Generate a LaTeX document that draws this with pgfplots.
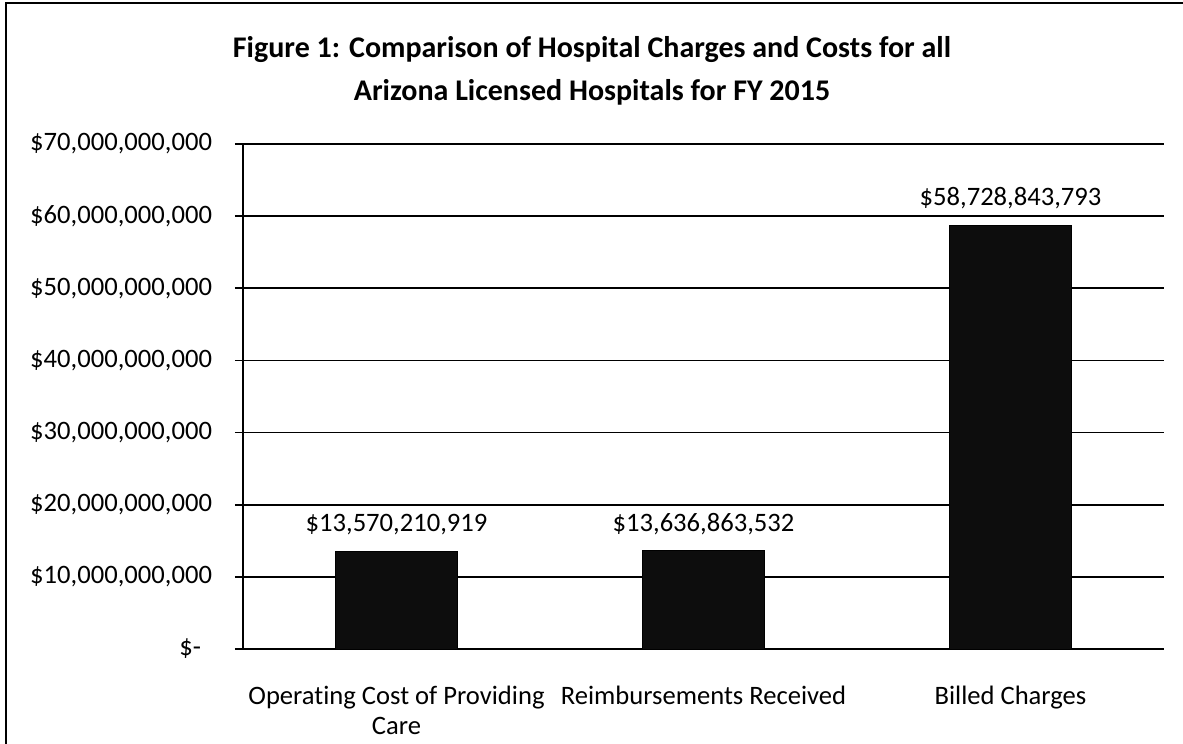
\documentclass[border=0pt]{standalone}
\usepackage{fontspec}
\setmainfont{Carlito}[Ligatures=NoCommon]
\usepackage{pgfplots}
\pgfplotsset{compat=1.18}
\begin{document}
\begin{tikzpicture}[x=1pt,y=1pt]
\useasboundingbox (0,0) rectangle (591.5,372);
\draw[line width=1.2pt] (3,-10) -- (3,370.5) -- (600,370.5);
\node[font=\bfseries\fontsize{15}{21.5}\selectfont, align=center] at (296,336.5) {Figure 1: Comparison of Hospital Charges and Costs for all\\Arizona Licensed Hospitals for FY 2015};
\begin{axis}[
  at={(121.5pt,47.5pt)}, anchor=south west,
  scale only axis, width=460.5pt, height=252.5pt,
  xmin=-0.5, xmax=2.5, ymin=0, ymax=70e9,
  ytick={0,10e9,20e9,30e9,40e9,50e9,60e9,70e9},
  yticklabels={{\$-\rule{5.5pt}{0pt}},{\$10,000,000,000},{\$20,000,000,000},{\$30,000,000,000},{\$40,000,000,000},{\$50,000,000,000},{\$60,000,000,000},{\$70,000,000,000}},
  scaled y ticks=false,
  xtick={0,1,2},
  xticklabels={{Operating Cost of Providing\\Care}, {Reimbursements Received}, {Billed Charges}},
  major x tick style={draw=none},
  extra x ticks={-0.5,0.5,1.5,2.5},
  extra x tick labels={},
  extra x tick style={tick style={black, line width=0.8pt}, major tick length=4pt, tick align=outside, grid=none},
  ymajorgrids, grid style={black, line width=0.8pt},
  tick align=outside, major tick length=4pt,
  y tick style={black, line width=0.8pt},
  axis x line*=bottom, axis y line*=left,
  x axis line style={-, line width=0.8pt}, y axis line style={-, line width=0.8pt},
  tick label style={font=\fontsize{13.3}{15}\selectfont},
  xticklabel style={align=center, yshift=-11pt},
  yticklabel style={xshift=-8pt},
  clip=false,
]
\addplot[ybar, bar width=61pt, fill=black!95, draw=black, line width=0.5pt,
  nodes near coords, point meta=explicit symbolic,
  every node near coord/.style={font=\fontsize{13.3}{15}\selectfont, anchor=center, yshift=13.5pt, black}] coordinates {
  (0,13570210919) [\$13,570,210,919]
  (1,13636863532) [\$13,636,863,532]
  (2,58728843793) [\$58,728,843,793]
};
\end{axis}
\end{tikzpicture}
\end{document}
